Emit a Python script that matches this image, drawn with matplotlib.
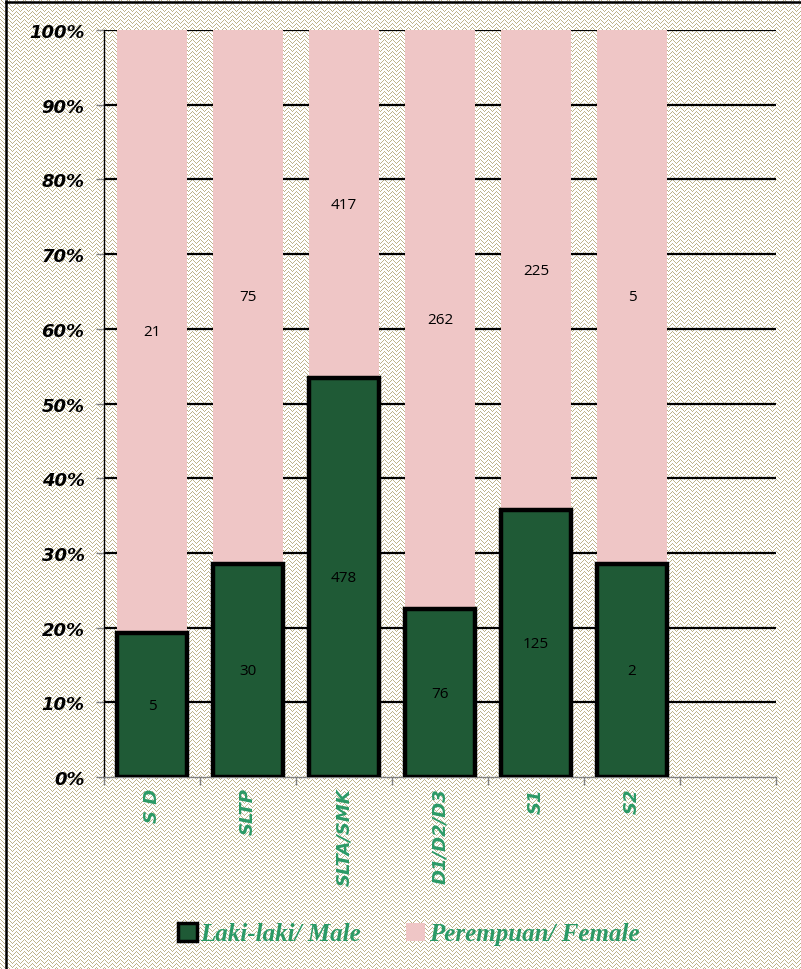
import numpy as np
import matplotlib
matplotlib.use("Agg")
import matplotlib.pyplot as plt
from matplotlib.patches import Patch

categories = ["S D", "SLTP", "SLTA/SMK", "D1/D2/D3", "S1", "S2"]
male = [5, 30, 478, 76, 125, 2]
female = [21, 75, 417, 262, 225, 5]
series_names = ["Laki-laki/ Male", "Perempuan/ Female"]
ytick_labels = ["0%", "10%", "20%", "30%", "40%", "50%", "60%", "70%", "80%", "90%", "100%"]

GREEN = "#1f5a36"
PINK = "#efc6c6"
LABEL_GREEN = "#2b9a66"
PAT = np.array([0xbd, 0xb3, 0x8a]) / 255.0

W, H = 801, 970
fig = plt.figure(figsize=(W / 100, H / 100), dpi=100)

# background zigzag pattern
yy, xx = np.mgrid[0:H, 0:W]
tri = np.abs((xx % 8) - 4)
mask = ((yy + tri) % 4 == 0)
img = np.ones((H, W, 3))
img[mask] = PAT
fig.figimage(img, 0, 0, zorder=-10)

# border (left & top)
fig.add_artist(plt.Line2D([6 / W, 6 / W], [0, 1 - 2 / H], color="black", lw=1.8, transform=fig.transFigure))
fig.add_artist(plt.Line2D([6 / W, 1], [1 - 3 / H, 1 - 3 / H], color="black", lw=1.8, transform=fig.transFigure))

ax = fig.add_axes([104 / W, (H - 778) / H, (776 - 104) / W, (778 - 31) / H])
ax.set_zorder(5)
ax.patch.set_visible(False)

totals = [m + f for m, f in zip(male, female)]
mp = [m / t * 100 for m, t in zip(male, totals)]
fp = [f / t * 100 for f, t in zip(female, totals)]
x = np.arange(len(categories)) + 0.5

ax.bar(x, fp, bottom=mp, width=0.72, color=PINK, edgecolor="none", zorder=3)
ax.bar(x, mp, width=0.72, color=GREEN, edgecolor="black", linewidth=3.2, zorder=4)

for xi, m, f, mv, fv in zip(x, mp, fp, male, female):
    ax.text(xi, m / 2, str(mv), ha="center", va="center", fontsize=11, family="Open Sans", color="black", zorder=5)
    ax.text(xi, m + f / 2, str(fv), ha="center", va="center", fontsize=11, family="Open Sans", color="black", zorder=5)

ax.set_xlim(0, 7)
ax.set_ylim(0, 100)
ax.set_yticks(np.arange(0, 101, 10))
ax.set_yticklabels(ytick_labels, fontsize=13, fontweight="bold", fontstyle="italic", family="DejaVu Sans")
for yv in range(10, 101, 10):
    ax.axhline(yv, color="black", lw=1.6, zorder=1)

ax.set_xticks(np.arange(0, 8))
ax.set_xticklabels([])
ax.tick_params(axis="x", length=6, color="#808080", width=1, direction="out")
ax.tick_params(axis="y", length=6, color="#808080", width=1, direction="out", pad=8)
for xi, c in zip(x, categories):
    ax.text(xi, -1.4, c, rotation=90, ha="center", va="top", fontsize=13, fontweight="bold",
            fontstyle="italic", family="DejaVu Sans", color=LABEL_GREEN)

for s in ["top", "right"]:
    ax.spines[s].set_visible(False)
ax.spines["left"].set_color("black")
ax.spines["left"].set_linewidth(1)
ax.spines["bottom"].set_color("#808080")
ax.spines["bottom"].set_linewidth(1)

handles = [Patch(facecolor=GREEN, edgecolor="black", linewidth=2.5), Patch(facecolor=PINK, edgecolor="none")]
fig.legend(handles, series_names, loc="center", bbox_to_anchor=(0.51, 1 - 935 / H), ncol=2, frameon=False,
           prop={"family": "Liberation Serif", "weight": "bold", "style": "italic", "size": 18},
           labelcolor=LABEL_GREEN, handlelength=0.75, handleheight=0.75, handletextpad=0.15, columnspacing=1.8)

fig.savefig("out.png", dpi=100)
